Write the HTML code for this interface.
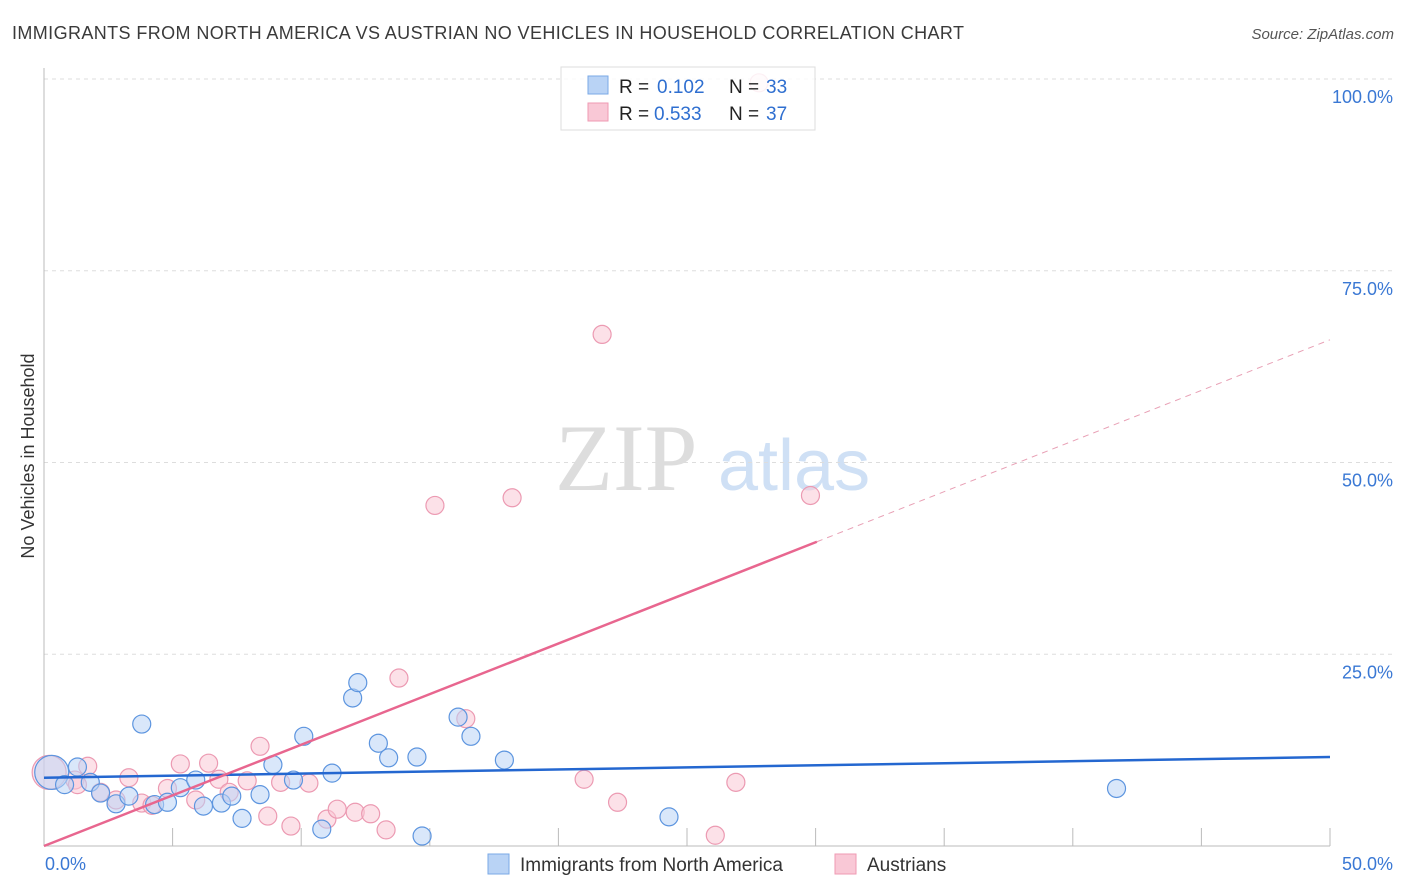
<!DOCTYPE html>
<html><head><meta charset="utf-8"><style>
body{margin:0;background:#fff;font-family:"Liberation Sans",sans-serif;}
svg{display:block}
</style></head><body>
<svg id="c" width="1406" height="892">
<text x="12" y="39" font-size="18" fill="#3a3a3a" textLength="952">IMMIGRANTS FROM NORTH AMERICA VS AUSTRIAN NO VEHICLES IN HOUSEHOLD CORRELATION CHART</text>
<text x="1394" y="39" font-size="15" fill="#555" font-style="italic" text-anchor="end">Source: ZipAtlas.com</text>
<text x="34" y="456" font-size="18" fill="#333" text-anchor="middle" transform="rotate(-90 34 456)">No Vehicles in Household</text>
<text x="555" y="490" font-size="95" fill="#ddd" font-family="Liberation Serif,serif">ZIP</text>
<text x="718" y="490" font-size="72" fill="#cfe0f5">atlas</text>
<g id="grid"></g><g id="pts"></g><g id="lines"></g>
<g>
<rect x="561" y="67" width="254" height="63" fill="#fff" fill-opacity="0.85" stroke="#ddd"/>
<rect x="588" y="76" width="20" height="18" fill="#b9d3f5" stroke="#7aa8e6"/>
<rect x="588" y="103" width="20" height="18" fill="#f9c8d6" stroke="#ef9ab3"/>
<text x="619" y="93" font-size="19" fill="#222">R =</text>
<text x="657" y="93" font-size="19" fill="#2f6fd0">0.102</text>
<text x="729" y="93" font-size="19" fill="#222">N =</text>
<text x="766" y="93" font-size="19" fill="#2f6fd0">33</text>
<text x="619" y="120" font-size="19" fill="#222">R =</text>
<text x="654" y="120" font-size="19" fill="#2f6fd0">0.533</text>
<text x="729" y="120" font-size="19" fill="#222">N =</text>
<text x="766" y="120" font-size="19" fill="#2f6fd0">37</text>
</g>
<g>
<rect x="488" y="854" width="21" height="20" fill="#b9d3f5" stroke="#7aa8e6"/>
<text x="520" y="871" font-size="19" fill="#333">Immigrants from North America</text>
<rect x="835" y="854" width="21" height="20" fill="#f9c8d6" stroke="#ef9ab3"/>
<text x="867" y="871" font-size="19" fill="#333">Austrians</text>
</g>
<text x="45" y="870" font-size="18" fill="#3a78d4">0.0%</text>
<text x="1393" y="870" font-size="18" fill="#3a78d4" text-anchor="end">50.0%</text>
</svg>
<script>
const yTicks=[100,75,50,25];
const blueX=[0.3,0.8,1.3,1.8,2.2,2.8,3.3,3.8,4.3,4.8,5.3,5.9,6.2,6.9,7.3,7.7,8.4,8.9,9.7,10.1,10.8,11.2,12.0,12.2,13.0,13.4,14.5,14.7,16.1,16.6,17.9,24.3,41.7];
const blueY=[9.6,8.0,10.3,8.3,6.9,5.5,6.5,15.9,5.4,5.7,7.6,8.6,5.2,5.6,6.5,3.6,6.7,10.6,8.6,14.3,2.2,9.5,19.3,21.3,13.4,11.5,11.6,1.3,16.8,14.3,11.2,3.8,7.5];
const pinkX=[0.2,1.2,1.7,2.2,2.8,3.3,3.8,4.2,4.8,5.3,5.9,6.4,6.8,7.2,7.9,8.4,8.7,9.2,9.6,10.3,11.0,11.4,12.1,12.7,13.3,13.8,15.2,16.4,18.2,21.0,21.7,22.3,26.1,26.9,27.8,29.8,1.3];
const pinkY=[9.6,8.6,10.4,7.0,6.0,8.9,5.6,5.3,7.5,10.7,6.0,10.8,8.7,7.0,8.5,13.0,3.9,8.3,2.6,8.2,3.5,4.8,4.4,4.2,2.1,21.9,44.4,16.6,45.4,8.7,66.7,5.7,1.4,8.3,99.5,45.7,8.0];
const blueFit=[8.9,11.6], pinkFit=[0,66.0];
const X=v=>44+v/50*1286, Y=v=>846-v/100*767;
const NS='http://www.w3.org/2000/svg';
function mk(t,a,p){const e=document.createElementNS(NS,t);for(const k in a)e.setAttribute(k,a[k]);p.appendChild(e);return e;}
const grid=document.getElementById('grid');
yTicks.forEach(t=>{
 const l=mk('line',{x1:44,x2:1394,y1:Y(t),y2:Y(t),stroke:'#ddd','stroke-dasharray':'4,4'},grid);
 
 
 const tx=mk('text',{x:1393,y:Y(t)+24,'font-size':18,fill:'#3a78d4','text-anchor':'end'},grid);
 tx.textContent=t.toFixed(1)+'%';
 
 
});
const ax=mk('line',{x1:44,x2:44,y1:68,y2:846,stroke:'#bbb'},grid);


const bx=mk('line',{x1:44,x2:1330,y1:846,y2:846,stroke:'#bbb'},grid);


for(let i=1;i<=10;i++){const t=mk('line',{x1:X(i*5),x2:X(i*5),y1:828,y2:846,stroke:'#bbb'},grid);
 
 }
const pts=document.getElementById('pts');
function dots(xs,ys,fill,stroke,name){xs.forEach((x,i)=>{const r=(i===0)?17:9;
 const c=mk('circle',{cx:X(x),cy:Y(ys[i]),r:r,fill:fill,'fill-opacity':(i===0?0.5:0.55),stroke:stroke,'stroke-width':1.2},pts);
 
 });}
dots(pinkX,pinkY,'#f9c8d6','#ec9ab2','austrians-point');
dots(blueX,blueY,'#b9d3f5','#5d95df','immigrants-point');
const lines=document.getElementById('lines');
const b=mk('line',{x1:X(0),y1:Y(blueFit[0]),x2:X(50),y2:Y(blueFit[1]),stroke:'#2467d0','stroke-width':2.5},lines);


const ps=(pinkFit[1]-pinkFit[0])/50, xe=30.05;
const p=mk('line',{x1:X(0),y1:Y(pinkFit[0]),x2:X(xe),y2:Y(pinkFit[0]+ps*xe),stroke:'#e8668f','stroke-width':2.5},lines);


const pd=mk('line',{x1:X(xe),y1:Y(pinkFit[0]+ps*xe),x2:X(50),y2:Y(pinkFit[1]),stroke:'#e8a0b5','stroke-width':1,'stroke-dasharray':'6,5'},lines);


</script>
</body></html>
